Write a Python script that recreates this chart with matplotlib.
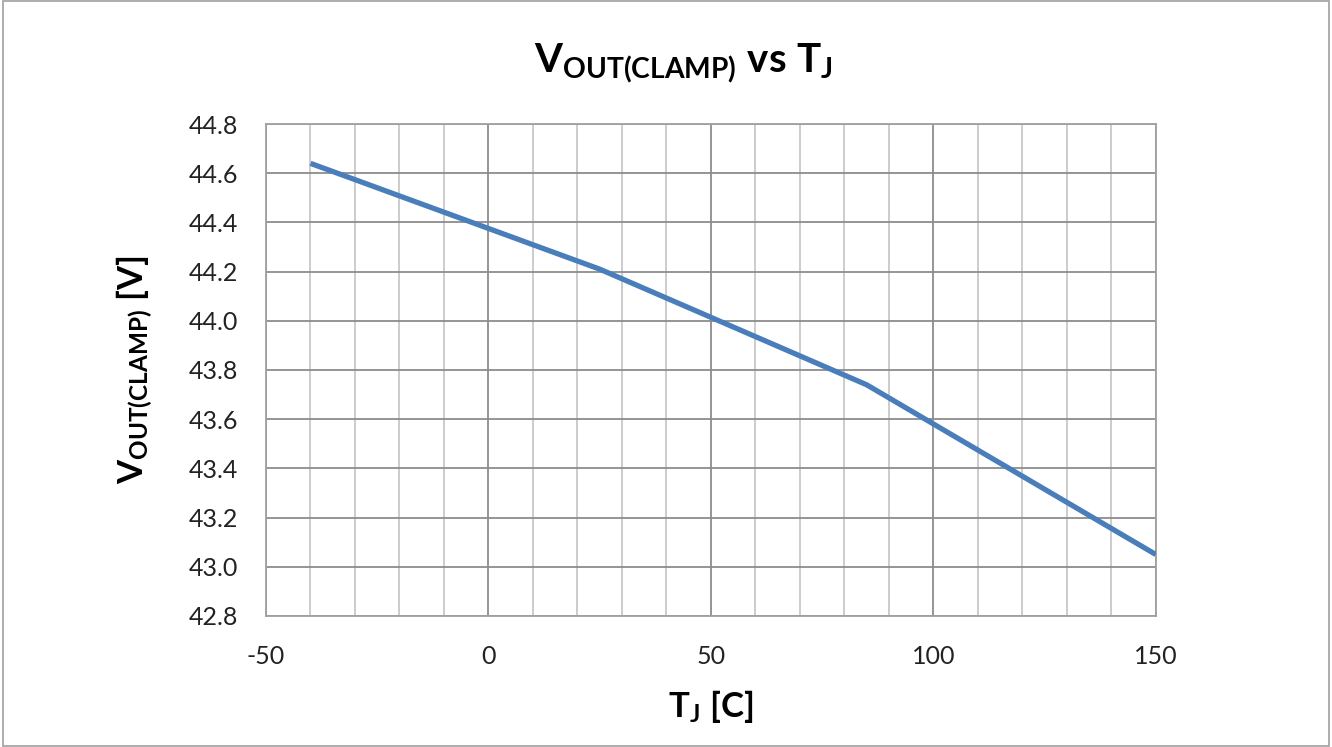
import matplotlib.pyplot as plt
from matplotlib.patches import Rectangle

# Data points
temp_c = [-40, 25, 85, 150]
vout_clamp = [44.64, 44.21, 43.74, 43.05]
x_ticks = [-50, 0, 50, 100, 150]
y_ticks = [42.8, 43.0, 43.2, 43.4, 43.6, 43.8, 44.0, 44.2, 44.4, 44.6, 44.8]

plt.rcParams['font.family'] = ['Lato', 'DejaVu Sans']
plt.rcParams['mathtext.fontset'] = 'custom'
plt.rcParams['mathtext.rm'] = 'Lato'
plt.rcParams['mathtext.bf'] = 'Lato:bold'
plt.rcParams['axes.unicode_minus'] = False

fig = plt.figure(figsize=(13.32, 7.47), dpi=100)
ax = fig.add_axes([0.1997, 0.1754, 0.668, 0.6586])

ax.plot(temp_c, vout_clamp, color='#4a7ebb', linewidth=3.8, solid_capstyle='butt', zorder=3)

ax.set_xlim(-50, 150)
ax.set_ylim(42.8, 44.8)
ax.set_xticks(x_ticks)
ax.set_xticks(range(-50, 151, 10), minor=True)
ax.set_yticks(y_ticks)
ax.set_yticklabels([f'{v:.1f}' for v in y_ticks])

ax.grid(True, which='major', color='#8c8c8c', linewidth=1.3)
ax.grid(True, which='minor', axis='x', color='#c8c8c8', linewidth=1.3)
ax.tick_params(which='both', length=0, labelsize=18, colors='#222222')
ax.tick_params(axis='y', pad=20)
ax.tick_params(axis='x', pad=21)
for s in ax.spines.values():
    s.set_color('#a0a0a0')
    s.set_linewidth(1.3)

fig.text(0.513, 0.915, r'$\mathbf{V_{OUT(CLAMP)}}$ $\mathbf{vs}$ $\mathbf{T_J}$',
         fontsize=29, ha='center', va='center')
ax.set_ylabel(r'$\mathbf{V_{OUT(CLAMP)}}$ $\mathbf{[V]}$', fontsize=25, labelpad=24)
ax.set_xlabel(r'$\mathbf{T_J}$ $\mathbf{[C]}$', fontsize=25, labelpad=14)

# Outer frame
fig.patches.append(Rectangle((0.002, 0.002), 0.996, 0.996, transform=fig.transFigure,
                             fill=False, edgecolor='#a0a0a0', linewidth=1.2))

plt.savefig("out.png", dpi=100)
